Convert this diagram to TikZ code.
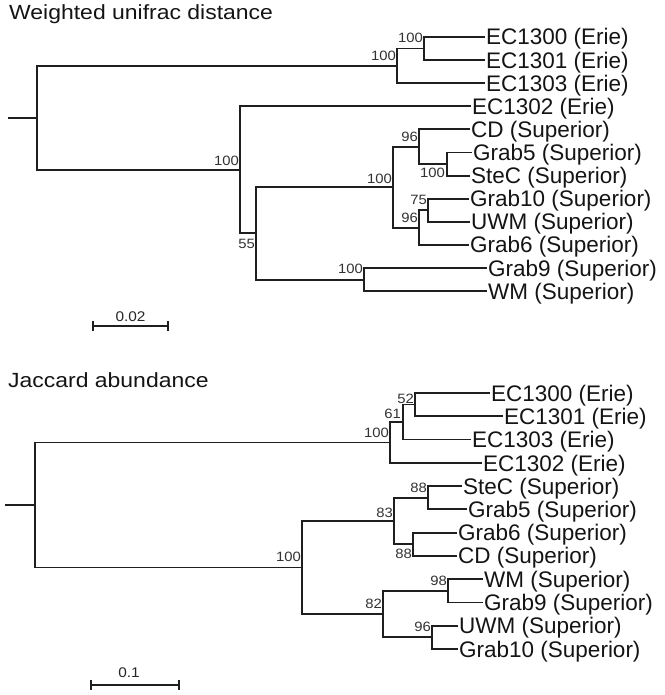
\documentclass[tikz,border=0pt]{standalone}
\usepackage{fontspec}
\setmainfont{Liberation Sans}
\newfontfamily\ttlfont[FakeStretch=1.12]{Liberation Sans}
\newfontfamily\smallfont[FakeStretch=1.1]{Liberation Sans}
\usetikzlibrary{calc}
\begin{document}
\begin{tikzpicture}[x=1pt,y=-1pt,
  br/.style={line width=1.9pt, draw=black!88, line join=miter},
  leaf/.style={anchor=base west, inner sep=0pt, font=\fontsize{22.5}{26}\selectfont, text=black!92},
  boot/.style={anchor=base east, inner sep=0pt, font=\smallfont\fontsize{13.5}{16}\selectfont, text=black!80},
  ttl/.style={anchor=base west, inner sep=0pt, font=\ttlfont\fontsize{20.5}{24}\selectfont, text=black!92},
  sclab/.style={anchor=base, inner sep=0pt, font=\smallfont\fontsize{14}{16}\selectfont, text=black!85},
]
\useasboundingbox (0,0) rectangle (664,695);

% ---------- titles ----------
\node[ttl] (title1) at (9,20) {Weighted unifrac distance};
\node[ttl] (title2) at (8,387) {Jaccard abundance};

% ---------- top tree ----------
\coordinate (tR0) at (8,117.85);
\coordinate (tR)  at (37,117.85);
\coordinate (tE3) at (397,65.9);
\coordinate (tIn) at (424,48.55);
\coordinate (tA)  at (240,169.8);
\coordinate (tB)  at (256,233.35);
\coordinate (tC)  at (393,187.15);
\coordinate (tE)  at (419,146.7);
\coordinate (tG)  at (447,164.05);
\coordinate (tF)  at (419,227.6);
\coordinate (tH)  at (428,210.25);
\coordinate (tD)  at (364,279.55);
\coordinate (t1)  at (485,37);
\coordinate (t2)  at (485,60.1);
\coordinate (t3)  at (485,83.2);
\coordinate (t4)  at (471,106.3);
\coordinate (t5)  at (470,129.4);
\coordinate (t6)  at (472,152.5);
\coordinate (t7)  at (470,175.6);
\coordinate (t8)  at (469,198.7);
\coordinate (t9)  at (470,221.8);
\coordinate (t10) at (469,244.9);
\coordinate (t11) at (487,268);
\coordinate (t12) at (487,291.1);

\draw[br] (tR0) -- (tR);
\draw[br] (tR) |- (tE3);  \draw[br] (tR) |- (tA);
\draw[br] (tE3) |- (tIn); \draw[br] (tE3) |- (t3);
\draw[br] (tIn) |- (t1);  \draw[br] (tIn) |- (t2);
\draw[br] (tA) |- (t4);   \draw[br] (tA) |- (tB);
\draw[br] (tB) |- (tC);   \draw[br] (tB) |- (tD);
\draw[br] (tC) |- (tE);   \draw[br] (tC) |- (tF);
\draw[br] (tE) |- (t5);   \draw[br] (tE) |- (tG);
\draw[br] (tG) |- (t6);   \draw[br] (tG) |- (t7);
\draw[br] (tF) |- (tH);   \draw[br] (tF) |- (t10);
\draw[br] (tH) |- (t8);   \draw[br] (tH) |- (t9);
\draw[br] (tD) |- (t11);  \draw[br] (tD) |- (t12);

\foreach \c/\t in {t1/EC1300 (Erie), t2/EC1301 (Erie), t3/EC1303 (Erie), t4/EC1302 (Erie),
  t5/CD (Superior), t6/Grab5 (Superior), t7/SteC (Superior), t8/Grab10 (Superior),
  t9/UWM (Superior), t10/Grab6 (Superior), t11/Grab9 (Superior), t12/WM (Superior)}
  \node[leaf] (\c lab) at ($(\c)+(1,8)$) {\t};

\node[boot] (tInb) at (423,43) {100};
\node[boot] (tE3b) at (396,61) {100};
\node[boot] (tAb)  at (239,165) {100};
\node[boot] (tEb)  at (418,142) {96};
\node[boot] (tGb)  at (445,178) {100};
\node[boot] (tCb)  at (392,183) {100};
\node[boot] (tHb)  at (427,204) {75};
\node[boot] (tFb)  at (418,222) {96};
\node[boot] (tBb)  at (255,248) {55};
\node[boot] (tDb)  at (363,273) {100};

% scale bar top
\coordinate (s1a) at (93,326);
\coordinate (s1b) at (168,326);
\draw[br] (s1a) -- (s1b);
\draw[br] ($(s1a)+(0,-5)$) -- ($(s1a)+(0,5)$);
\draw[br] ($(s1b)+(0,-5)$) -- ($(s1b)+(0,5)$);
\node[sclab] (s1lab) at (130.5,321) {0.02};

% ---------- bottom tree ----------
\coordinate (bR0) at (5,505);
\coordinate (bR)  at (35,505);
\coordinate (bEr) at (390,442.5);
\coordinate (bI)  at (403,422);
\coordinate (bJ)  at (415,404.5);
\coordinate (bK)  at (302,567.5);
\coordinate (bL)  at (394,520.9);
\coordinate (bN)  at (428,497.6);
\coordinate (bO)  at (413,544.2);
\coordinate (bM)  at (383,614.1);
\coordinate (bP)  at (448,590.8);
\coordinate (bQ)  at (432,637.4);
\coordinate (b1)  at (490,393);
\coordinate (b2)  at (503,416);
\coordinate (b3)  at (471,439.5);
\coordinate (b4)  at (482,463);
\coordinate (b5)  at (462,486);
\coordinate (b6)  at (467,509.3);
\coordinate (b7)  at (457,532.6);
\coordinate (b8)  at (457,555.9);
\coordinate (b9)  at (483,579.2);
\coordinate (b10) at (483,602.5);
\coordinate (b11) at (458,625.8);
\coordinate (b12) at (458,649.1);

\draw[br] (bR0) -- (bR);
\draw[br] (bR) |- (bEr);  \draw[br] (bR) |- (bK);
\draw[br] (bEr) |- (bI);  \draw[br] (bEr) |- (b4);
\draw[br] (bI) |- (bJ);   \draw[br] (bI) |- (b3);
\draw[br] (bJ) |- (b1);   \draw[br] (bJ) |- (b2);
\draw[br] (bK) |- (bL);   \draw[br] (bK) |- (bM);
\draw[br] (bL) |- (bN);   \draw[br] (bL) |- (bO);
\draw[br] (bN) |- (b5);   \draw[br] (bN) |- (b6);
\draw[br] (bO) |- (b7);   \draw[br] (bO) |- (b8);
\draw[br] (bM) |- (bP);   \draw[br] (bM) |- (bQ);
\draw[br] (bP) |- (b9);   \draw[br] (bP) |- (b10);
\draw[br] (bQ) |- (b11);  \draw[br] (bQ) |- (b12);

\foreach \c/\t in {b1/EC1300 (Erie), b2/EC1301 (Erie), b3/EC1303 (Erie), b4/EC1302 (Erie),
  b5/SteC (Superior), b6/Grab5 (Superior), b7/Grab6 (Superior), b8/CD (Superior),
  b9/WM (Superior), b10/Grab9 (Superior), b11/UWM (Superior), b12/Grab10 (Superior)}
  \node[leaf] (\c lab) at ($(\c)+(1,8)$) {\t};

\node[boot] (bJb)  at (414,403) {52};
\node[boot] (bIb)  at (401,418) {61};
\node[boot] (bErb) at (389,437) {100};
\node[boot] (bNb)  at (427,492) {88};
\node[boot] (bLb)  at (393,517) {83};
\node[boot] (bOb)  at (412,558) {88};
\node[boot] (bKb)  at (301,561) {100};
\node[boot] (bPb)  at (447,585) {98};
\node[boot] (bMb)  at (382,608) {82};
\node[boot] (bQb)  at (431,631) {96};

% scale bar bottom
\coordinate (s2a) at (91,685);
\coordinate (s2b) at (179,685);
\draw[br] (s2a) -- (s2b);
\draw[br] ($(s2a)+(0,-5)$) -- ($(s2a)+(0,5)$);
\draw[br] ($(s2b)+(0,-5)$) -- ($(s2b)+(0,5)$);
\node[sclab] (s2lab) at (129,677) {0.1};
\end{tikzpicture}
\end{document}
